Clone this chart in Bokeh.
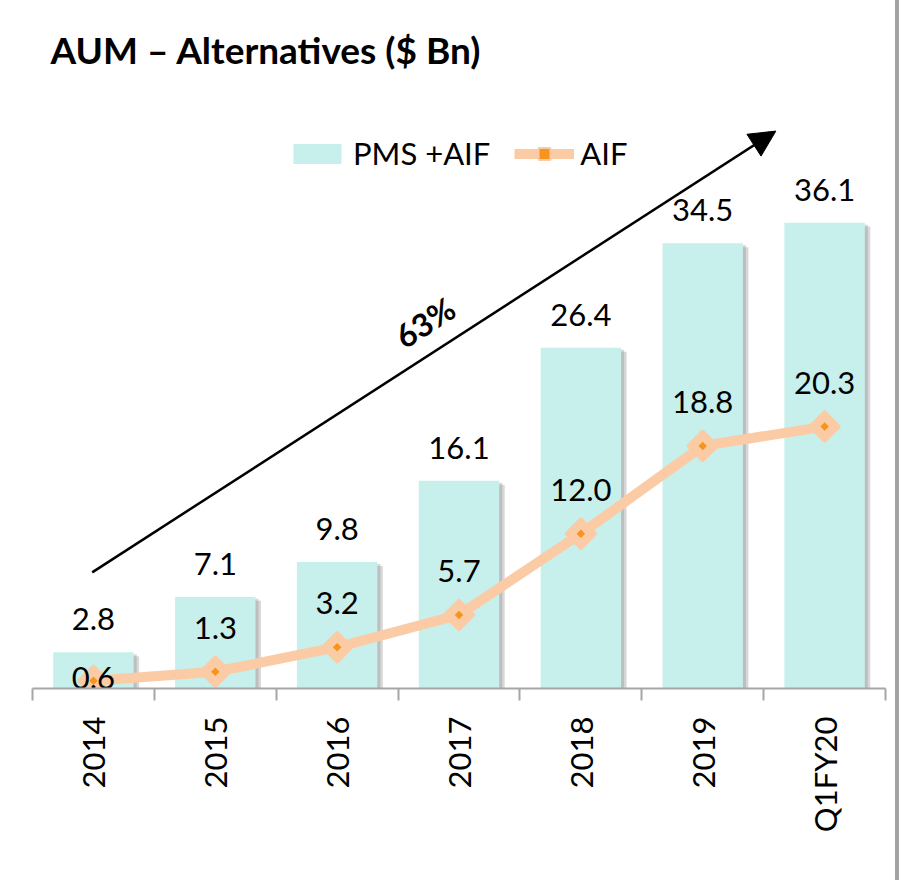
import math
from bokeh.plotting import figure
from bokeh.models import (ColumnDataSource, FactorRange, Range1d, CategoricalAxis,
                          Arrow, NormalHead, Label)
from bokeh.transform import dodge
from bokeh.core.properties import value
from bokeh.embed import file_html
from bokeh.resources import INLINE

# ---- data ----
categories = ["2014", "2015", "2016", "2017", "2018", "2019", "Q1FY20"]
pms_aif = [2.8, 7.1, 9.8, 16.1, 26.4, 34.5, 36.1]
aif = [0.6, 1.3, 3.2, 5.7, 12.0, 18.8, 20.3]
cagr_text = "63%"
title_text = "AUM – Alternatives ($ Bn)"

# ---- styles ----
FONT = "Lato"
BAR = "#C7EFEC"
LINE = "#FBCBA5"
DOT = "#F7941D"
AXIS = "#A6A6A6"
aif_label_dy = [-3] + [-44] * (len(aif) - 1)

src = ColumnDataSource(dict(
    cat=categories,
    pms=pms_aif,
    aif=aif,
    pms_txt=[f"{v:.1f}" for v in pms_aif],
    aif_txt=[f"{v:.1f}" for v in aif],
    aif_dy=aif_label_dy,
))

p = figure(x_range=FactorRange(*categories, range_padding=0),
           y_range=Range1d(0, 52.7),
           frame_width=853, frame_height=680,
           min_border_left=32, min_border_right=10, min_border_top=8, min_border_bottom=192,
           output_backend="svg", toolbar_location=None,
           y_axis_location=None)
p.xgrid.visible = False
p.ygrid.visible = False
p.outline_line_color = None
p.background_fill_color = "white"
p.border_fill_color = "white"
p.styles = {"border-right": "4px solid #a3a3a3"}

# shadows
p.vbar(x=dodge("cat", 0.045, range=p.x_range), top=dodge("pms", -0.3), width=0.66,
       fill_color="#8f8f8f", fill_alpha=0.35, line_color=None, source=src)
p.vbar(x=dodge("cat", 0.025, range=p.x_range), top=dodge("pms", -0.15), width=0.66,
       fill_color="#8f8f8f", fill_alpha=0.35, line_color=None, source=src)
# bars
p.vbar(x="cat", top="pms", width=0.66, fill_color=BAR, line_color=None,
       source=src, legend_label="PMS +AIF")

# line + markers
p.line(x="cat", y="aif", line_width=10, line_color=LINE, line_join="round",
       source=src, legend_label="AIF")
p.scatter(x="cat", y="aif", marker="square", size=20, angle=math.pi / 4,
          fill_color=LINE, line_color=LINE, line_width=4, line_join="round",
          source=src, legend_label="AIF")
p.scatter(x="cat", y="aif", marker="square", size=6, angle=math.pi / 4,
          fill_color=DOT, line_color=None, source=src, legend_label="AIF")

# data labels
p.text(x="cat", y="pms", text="pms_txt", y_offset=-33, text_align="center",
       text_baseline="middle", text_font=value(FONT), text_font_size="31px",
       text_color="black", source=src)
p.text(x="cat", y="aif", text="aif_txt", y_offset="aif_dy", text_align="center",
       text_baseline="middle", text_font=value(FONT), text_font_size="31px",
       text_color="black", source=src)

# axes
cat_axis = p.xaxis[0]
cat_axis.axis_line_color = None
cat_axis.major_tick_line_color = None
cat_axis.minor_tick_line_color = None
cat_axis.major_label_orientation = math.pi / 2
cat_axis.major_label_text_font = FONT
cat_axis.major_label_text_font_size = "31px"
cat_axis.major_label_text_color = "black"
cat_axis.major_label_standoff = 10

# boundary ticks: a factor range whose factor centres fall on category edges
edge_factors = [f"edge{i}" for i in range(len(categories) + 1)]
p.extra_x_ranges = {"edges": FactorRange(*edge_factors, range_padding=-0.499,
                                         range_padding_units="absolute")}
tick_axis = CategoricalAxis(x_range_name="edges",
                            axis_line_color=AXIS, axis_line_width=2,
                            major_tick_line_color=AXIS, major_tick_line_width=2,
                            major_tick_out=12, major_tick_in=0,
                            minor_tick_line_color=None,
                            major_label_text_font_size="0px",
                            major_label_text_color=None,
                            major_label_standoff=0)
p.add_layout(tick_axis, "below")
p.below = [tick_axis] + [a for a in p.below if a is not tick_axis]

# legend
lg = p.legend[0]
lg.orientation = "horizontal"
lg.location = (255, 516)
lg.glyph_width = 60
lg.glyph_height = 25
lg.label_text_font = FONT
lg.label_text_font_size = "31px"
lg.label_text_color = "black"
lg.border_line_color = None
lg.background_fill_alpha = 0
lg.padding = 0
lg.margin = 0
lg.spacing = 24
lg.label_standoff = 6

# title
p.add_layout(Label(x=18, y=639, x_units="screen", y_units="screen", text=title_text,
                   text_font=FONT, text_font_style="bold", text_font_size="37px",
                   text_color="black", text_baseline="alphabetic"))

# growth arrow
p.add_layout(Arrow(end=NormalHead(size=26, fill_color="black", line_color="black"),
                   x_start=0.49, y_start=9.0, x_end=6.1, y_end=43.2,
                   line_width=2.5, line_color="black"))
p.add_layout(Label(x=3.22, y=28.4, angle=0.573, text=cagr_text, text_align="center",
                   text_baseline="middle", text_font=FONT, text_font_style="bold",
                   text_font_size="32px", text_color="black"))

open("out.html", "w").write(file_html(p, INLINE))
